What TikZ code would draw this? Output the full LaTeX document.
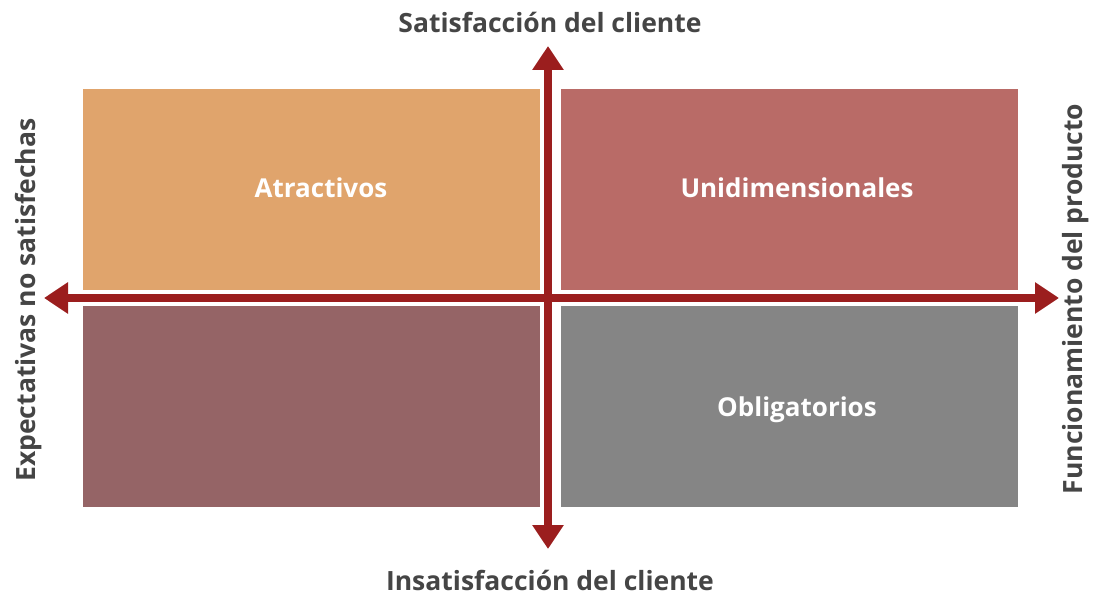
\documentclass[tikz,border=0pt]{standalone}
\usepackage{fontspec}
\setmainfont{Open Sans}
\usepackage{xcolor}
\usetikzlibrary{arrows.meta,positioning}

\definecolor{atrcol}{HTML}{E0A46C}
\definecolor{unicol}{HTML}{B96B67}
\definecolor{indcol}{HTML}{956466}
\definecolor{oblcol}{HTML}{858585}
\definecolor{axiscol}{HTML}{9B1E1E}
\definecolor{txtcol}{HTML}{454545}

\begin{document}
\begin{tikzpicture}[x=1pt,y=-1pt,
  quad/.style={minimum width=457pt,minimum height=201pt,inner sep=0pt},
  quadtxt/.style={text=white,font=\bfseries\fontsize{26}{30}\selectfont},
  axis/.style={line width=8pt,axiscol,-{Triangle[width=30pt,length=24pt]}},
  axlabel/.style={text=txtcol,font=\bfseries\fontsize{26.5}{30}\selectfont,inner sep=0pt}]
  \useasboundingbox (0,0) rectangle (1096,596);

  % quadrants
  \node[quad,fill=atrcol] (atr) at (311.5,189.5) {};
  \node[quad,fill=unicol] (uni) at (789,189.5) {};
  \node[quad,fill=indcol] (ind) at (311.5,406.5) {};
  \node[quad,fill=oblcol] (obl) at (789,406.5) {};
  \node[quadtxt] (atrtxt) at (321,188) {Atractivos};
  \node[quadtxt] (unitxt) at (797,188) {Unidimensionales};
  \node[quadtxt] (obltxt) at (797,410) {Obligatorios};

  % axes
  \coordinate (o) at (548,298);
  \coordinate (xl) at (44,298);
  \coordinate (xr) at (1059,298);
  \coordinate (yt) at (548,46);
  \coordinate (yb) at (548,549);
  \draw[axis] (o) -- (xl);
  \draw[axis] (o) -- (xr);
  \draw[axis] (o) -- (yt);
  \draw[axis] (o) -- (yb);

  % axis labels
  \node[axlabel] (sat) at (550,22) {Satisfacción del cliente};
  \node[axlabel] (ins) at (550,580) {Insatisfacción del cliente};
  \node[axlabel,rotate=90] (exp) at (29,300) {Expectativas no satisfechas};
  \node[axlabel,rotate=90] (fun) at (1076,299) {Funcionamiento del producto};
\end{tikzpicture}
\end{document}
